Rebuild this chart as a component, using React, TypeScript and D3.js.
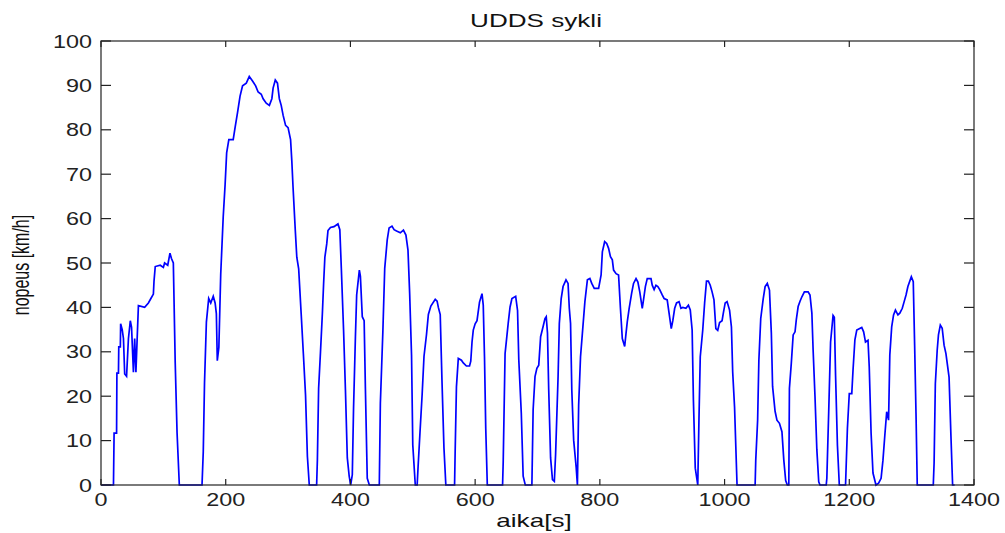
import React from "react";
import * as d3 from "d3";

const TITLE = "UDDS sykli";
const X_LABEL = "aika[s]";
const Y_LABEL = "nopeus [km/h]";
const X_TICKS = [0, 200, 400, 600, 800, 1000, 1200, 1400];
const Y_TICKS = [0, 10, 20, 30, 40, 50, 60, 70, 80, 90, 100];

// time [s]
const TIME: number[] = [
  0, 20, 21, 25, 25.5, 28, 28.5, 31, 31.5, 34, 36, 38, 41, 44, 47, 49, 52, 54, 56, 58, 60, 70, 76, 80, 84, 85, 87, 95, 100, 102, 107, 110.6, 113, 116, 119, 122, 125.6,
  162, 164, 166, 169, 172.7, 176, 180, 183, 185, 186.5, 189, 192, 196, 199, 201.5, 205, 212, 215, 219, 223, 227, 233, 237.8, 243, 248, 252, 257, 260, 265, 270, 274, 276, 279.5, 283, 286, 289, 292, 296, 300, 304, 306, 308, 311.6, 314, 317, 321, 324.5, 328, 331, 334,
  345.8, 347, 349, 352, 355, 357, 359, 362, 364, 368, 373.6, 380, 383, 385.4, 389, 392, 395, 398, 400.4, 403, 405, 408, 410, 414.3, 416, 419, 422, 424, 427, 430.3,
  446.3, 448, 452, 455, 459, 462, 466.6, 470, 474, 480, 485, 489, 492.3, 495, 498, 500, 504,
  507, 508.5, 511.5, 515, 518, 522, 525, 529, 536, 539, 541, 544, 546.8, 550, 553,
  567, 568, 570, 573, 578, 581, 586, 591, 593, 595, 597, 600, 603, 607, 611, 613, 615, 617, 619.5,
  644, 645, 648, 653, 656, 659, 665, 668, 670, 674, 677, 680.4,
  691, 693, 696, 699, 702, 705, 709, 712, 714, 716, 718, 721, 724, 727, 729, 733, 735, 738, 741, 745.7, 749, 751, 753, 755, 758, 762, 764,
  766, 769, 772, 776, 780, 784, 787, 791, 798, 802, 804, 807.7, 811, 814, 817, 820, 822, 826, 830, 833, 836, 839.8, 842, 844, 847, 851, 854, 858, 861, 864, 868, 870, 873, 876, 882, 884, 887, 890, 893, 896, 900, 903, 908, 911, 914.5, 917, 920, 923, 927, 930, 933, 938, 942, 945, 948, 950, 953, 957,
  959, 961, 965, 968, 971, 974, 977, 980, 983, 986, 989, 992, 996, 998, 1001, 1004, 1008, 1011, 1013, 1016, 1020,
  1049, 1050, 1053, 1055, 1058, 1062, 1065, 1068.5, 1072, 1075, 1077, 1081, 1084, 1088, 1092, 1095, 1098, 1100.6,
  1103, 1104, 1107, 1110, 1113, 1115, 1118, 1121, 1124, 1128, 1134, 1137, 1140, 1142, 1145, 1148, 1151, 1153,
  1163, 1164, 1167, 1170, 1174, 1176, 1178, 1181, 1184,
  1194, 1197, 1200, 1204, 1206, 1209, 1212, 1216, 1220, 1223, 1226, 1230, 1232, 1235, 1238, 1242.8,
  1247, 1251, 1254, 1257, 1260, 1263, 1265, 1268, 1271, 1274, 1278, 1281, 1285, 1288, 1291, 1294, 1299.5, 1302.6, 1304.8, 1307, 1309,
  1334.7, 1336, 1338, 1341, 1343, 1346, 1349, 1352, 1355, 1360, 1363, 1365.7, 1369,
];

// speed [km/h]
const SPEED: number[] = [
  0, 0, 11.7, 11.7, 25.2, 25.2, 31.1, 31.1, 36.3, 35, 33, 25, 24.5, 33, 37, 35.5, 25.4, 33, 25.4, 33, 40.4, 40, 41, 42, 43, 45.9, 49.2, 49.5, 49, 50, 49.5, 52.2, 51, 50, 27.6, 11.7, 0,
  0, 7.5, 23, 36.7, 42, 41, 42.5, 41, 38.6, 28, 31, 47.5, 60.4, 67.6, 74.8, 77.8, 77.8, 80.5, 83.9, 87.6, 89.9, 90.5, 92, 91, 89.9, 88.5, 88, 87, 86, 85.5, 87, 89.4, 91.2, 90.5, 87, 85.5, 83.3, 81, 80.5, 77.8, 73, 67, 57.3, 51.3, 48.7, 38.6, 29.6, 20.3, 6.4, 0,
  0, 5.6, 21.8, 30, 38.6, 45.4, 51.3, 54.3, 57.3, 58, 58.2, 58.8, 57.5, 48.8, 34.9, 21.4, 6.1, 2, 0, 2.3, 17.3, 33.4, 42.8, 48.4, 47, 37.9, 37, 21.8, 1.5, 0,
  0, 18.4, 34.5, 48.8, 55.2, 57.9, 58.3, 57.5, 57.2, 56.8, 57.4, 56.3, 52.9, 43.1, 29.3, 9, 0,
  0, 4.1, 11.7, 20.4, 29, 33.9, 38.4, 40.3, 41.8, 41.4, 40, 38.4, 23.6, 8.3, 0,
  0, 7.9, 22.1, 28.5, 28.1, 27.5, 26.8, 26.8, 27.9, 32.2, 34.9, 36.3, 37, 41.2, 43.1, 40.5, 28.9, 12.8, 0,
  0, 5.2, 29.6, 36.4, 40.1, 42, 42.5, 39.3, 28.2, 16.2, 2, 0,
  0, 17, 24.4, 26.3, 27, 33.4, 35.7, 37.5, 37.9, 34.2, 21.4, 6.1, 1.2, 0.8, 6.8, 24.4, 36.4, 42, 44.7, 46.2, 45.4, 39.8, 36.4, 21.4, 10.1, 4, 0,
  18, 28.9, 34.2, 41.3, 46.2, 46.5, 45.4, 44.3, 44.3, 47.3, 52.5, 54.8, 54.4, 53.3, 51.4, 50.7, 48.4, 47.6, 47.3, 39.8, 33, 31.2, 34.2, 36.8, 39.8, 43.2, 45.4, 46.5, 45.7, 43.5, 39.8, 41.7, 44.7, 46.5, 46.5, 45, 44, 45, 44.7, 44, 42.8, 42, 41.7, 38.7, 35.2, 37, 39.8, 41, 41.3, 39.8, 40, 39.8, 40.5, 39.4, 34.9, 19.2, 3.8, 0,
  15.3, 28.9, 34.9, 41, 45.9, 45.9, 45, 43.5, 41.7, 35.2, 34.8, 36.6, 37, 38.7, 41, 41.3, 39.4, 35.6, 25.5, 17.6, 0,
  0, 5.6, 14.6, 28.1, 37.5, 42, 44.7, 45.4, 43.9, 34.2, 22.2, 16.6, 14.6, 13.9, 12, 5.6, 1, 0,
  0, 21.8, 27.4, 33.8, 34.5, 37.2, 40.2, 41.4, 42.4, 43.5, 43.5, 42.8, 38.7, 30.4, 20, 7.9, 0.7, 0,
  0, 1.5, 16.5, 32.2, 38.2, 37.8, 24.7, 8.9, 0,
  0, 12.8, 20.6, 20.6, 25.9, 32.7, 34.9, 35.2, 35.5, 34.5, 32.2, 32.6, 26.6, 11.6, 2.7, 0,
  0.4, 1.5, 5.6, 11.2, 16.5, 14.6, 29.3, 35.6, 38.3, 39.4, 38.3, 38.7, 39.8, 41.3, 42.8, 44.7, 46.9, 45.8, 31.5, 16.1, 0,
  0, 4.9, 22.8, 30.4, 33.8, 36, 35.3, 31.5, 29.6, 24.3, 11.1, 0, 0,
];

const W = 1005;
const H = 533;
const M = { left: 101, right: 974, top: 41, bottom: 485 };
const FONT = "Arial, 'Liberation Sans', sans-serif";
const SX_TICK = 1.3;
const SX_TEXT = 1.45;

export default function App() {
  const x = d3.scaleLinear().domain([0, 1400]).range([M.left, M.right]);
  const y = d3.scaleLinear().domain([0, 100]).range([M.bottom, M.top]);
  const pts: [number, number][] = TIME.map((t, i) => [t, SPEED[i]]);
  const line = d3
    .line<[number, number]>()
    .x((d) => x(d[0]))
    .y((d) => y(d[1]))
    .curve(d3.curveLinear);
  const tickX = 6; // vertical ticks on x axes
  const tickY = 10; // horizontal ticks on y axes
  return (
    <div style={{ position: "absolute", left: 0, top: 0, background: "#fff" }}>
      <svg width={W} height={H} style={{ display: "block", background: "#fff" }}>
        <rect x={0} y={0} width={W} height={H} fill="#fff" />
        <path d={line(pts) || ""} fill="none" stroke="#0000ff" strokeWidth={1.7} strokeLinejoin="miter" />
        <rect
          x={M.left}
          y={M.top}
          width={M.right - M.left}
          height={M.bottom - M.top}
          fill="none"
          stroke="#222"
          strokeWidth={1.2}
        />
        {X_TICKS.map((t) => (
          <g key={"x" + t}>
            <line x1={x(t)} x2={x(t)} y1={M.bottom} y2={M.bottom - tickX} stroke="#222" strokeWidth={1.2} />
            <line x1={x(t)} x2={x(t)} y1={M.top} y2={M.top + tickX} stroke="#222" strokeWidth={1.2} />
            <text
              transform={`translate(${x(t)},${506}) scale(${SX_TICK},1)`}
              textAnchor="middle"
              fontFamily={FONT}
              fontSize={18}
              fill="#222"
            >
              {t}
            </text>
          </g>
        ))}
        {Y_TICKS.map((v) => (
          <g key={"y" + v}>
            <line x1={M.left} x2={M.left + tickY} y1={y(v)} y2={y(v)} stroke="#222" strokeWidth={1.2} />
            <line x1={M.right} x2={M.right - tickY} y1={y(v)} y2={y(v)} stroke="#222" strokeWidth={1.2} />
            <text
              transform={`translate(${M.left - 9},${y(v) + 6.5}) scale(${SX_TICK},1)`}
              textAnchor="end"
              fontFamily={FONT}
              fontSize={18}
              fill="#222"
            >
              {v}
            </text>
          </g>
        ))}
        <text
          transform={`translate(536,27) scale(${SX_TEXT},1)`}
          textAnchor="middle"
          fontFamily={FONT}
          fontSize={18}
          fill="#111"
        >
          {TITLE}
        </text>
        <text
          transform={`translate(534,526.5) scale(${SX_TEXT},1)`}
          textAnchor="middle"
          fontFamily={FONT}
          fontSize={18}
          fill="#111"
        >
          {X_LABEL}
        </text>
        <text
          transform={`translate(29,265) scale(${SX_TEXT},1) rotate(-90)`}
          textAnchor="middle"
          fontFamily={FONT}
          fontSize={16}
          fill="#111"
        >
          {Y_LABEL}
        </text>
      </svg>
    </div>
  );
}
